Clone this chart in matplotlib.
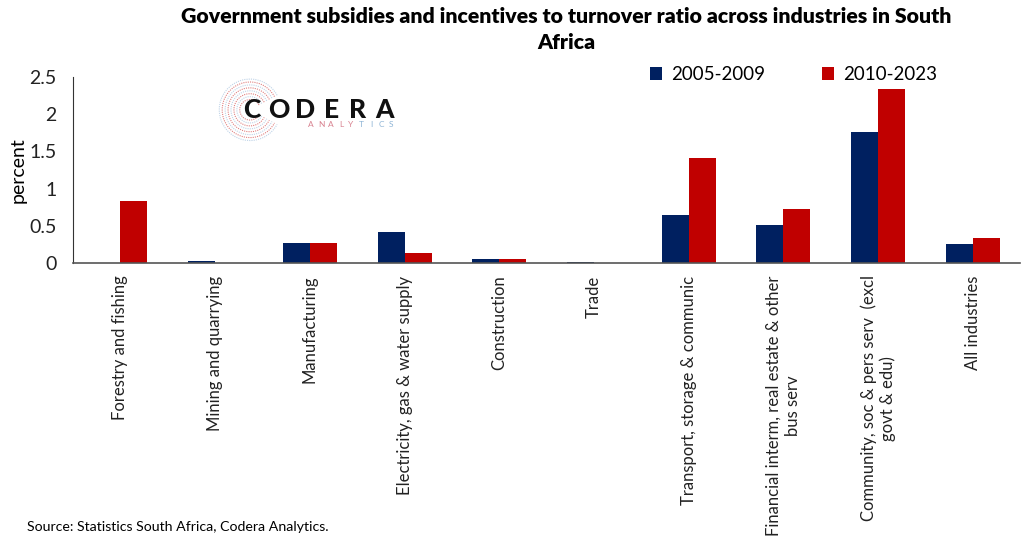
import numpy as np
import matplotlib.pyplot as plt
from matplotlib.patches import Arc

industries = [
    "Forestry and fishing",
    "Mining and quarrying",
    "Manufacturing",
    "Electricity, gas & water supply",
    "Construction",
    "Trade",
    "Transport, storage & communic",
    "Financial interm, real estate & other\nbus serv",
    "Community, soc & pers serv  (excl\ngovt & edu)",
    "All industries",
]
period_2005_2009 = [0.005, 0.02, 0.27, 0.42, 0.05, 0.01, 0.64, 0.51, 1.76, 0.25]
period_2010_2023 = [0.83, 0.003, 0.27, 0.14, 0.05, 0.004, 1.41, 0.72, 2.34, 0.33]

blue = "#002060"
red = "#C00000"

plt.rcParams["font.family"] = ["Lato", "DejaVu Sans"]

fig = plt.figure(figsize=(10.24, 5.49), dpi=100)
ax = fig.add_axes([0.0713, 0.521, 0.925, 0.339])

x = np.arange(len(industries))
w = 0.285
ax.bar(x - w / 2, period_2005_2009, w, color=blue, label="2005-2009")
ax.bar(x + w / 2, period_2010_2023, w, color=red, label="2010-2023")

ax.set_xlim(-0.5, len(industries) - 0.5)
ax.set_ylim(0, 2.5)
ax.set_yticks([0, 0.5, 1, 1.5, 2, 2.5])
ax.set_yticklabels(["0", "0.5", "1", "1.5", "2", "2.5"])
ax.set_xticks(x)
ax.set_xticklabels(industries, rotation=90, ha="center", va="top",
                   multialignment="center")
ax.tick_params(axis="both", length=0, colors="#222222")
ax.tick_params(axis="x", pad=9, labelsize=12)
ax.tick_params(axis="y", labelsize=14, pad=12)
for s in ["top", "right"]:
    ax.spines[s].set_visible(False)
ax.spines["left"].set_color("#333333")
ax.spines["bottom"].set_color("#555555")
ax.spines["bottom"].set_linewidth(1.2)
ax.set_ylabel("percent", fontsize=14, labelpad=2)

leg = fig.legend(loc="center", bbox_to_anchor=(0.775, 0.864), ncol=2,
                 frameon=False, fontsize=13.5, handlelength=0.65,
                 handleheight=0.65, columnspacing=3.0, handletextpad=0.5)

fig.text(0.553, 0.988, "Government subsidies and incentives to turnover ratio across industries in South\nAfrica",
         ha="center", va="top", fontsize=15.3, fontweight="heavy",
         linespacing=1.45)

# logo
for i, ch in enumerate("CODERA"):
    fig.text((252 + i * 26.5) / 1024, 0.800, ch, ha="center", va="center",
             fontsize=19, fontweight="black", color="#111111")
for i, ch in enumerate("ANALYTICS"):
    col = "#d98592" if i < 5 else "#8fb5d6"
    fig.text((311 + i * 10) / 1024, 0.773, ch, ha="center", va="center",
             fontsize=6, color=col)
for i, r in enumerate(np.linspace(0.010, 0.03, 8)):
    col = red if i % 2 == 0 else "#7fa7d0"
    arc = Arc((250 / 1024, 0.80), 2 * r, 2 * r * 1024 / 549, theta1=45,
              theta2=315, transform=fig.transFigure, color=col, lw=0.8,
              alpha=0.5, ls=(0, (1, 1)))
    fig.add_artist(arc)

fig.text(0.026, 0.04, "Source: Statistics South Africa, Codera Analytics.",
         ha="left", va="center", fontsize=10.2)

fig.savefig("out.png", dpi=100)
